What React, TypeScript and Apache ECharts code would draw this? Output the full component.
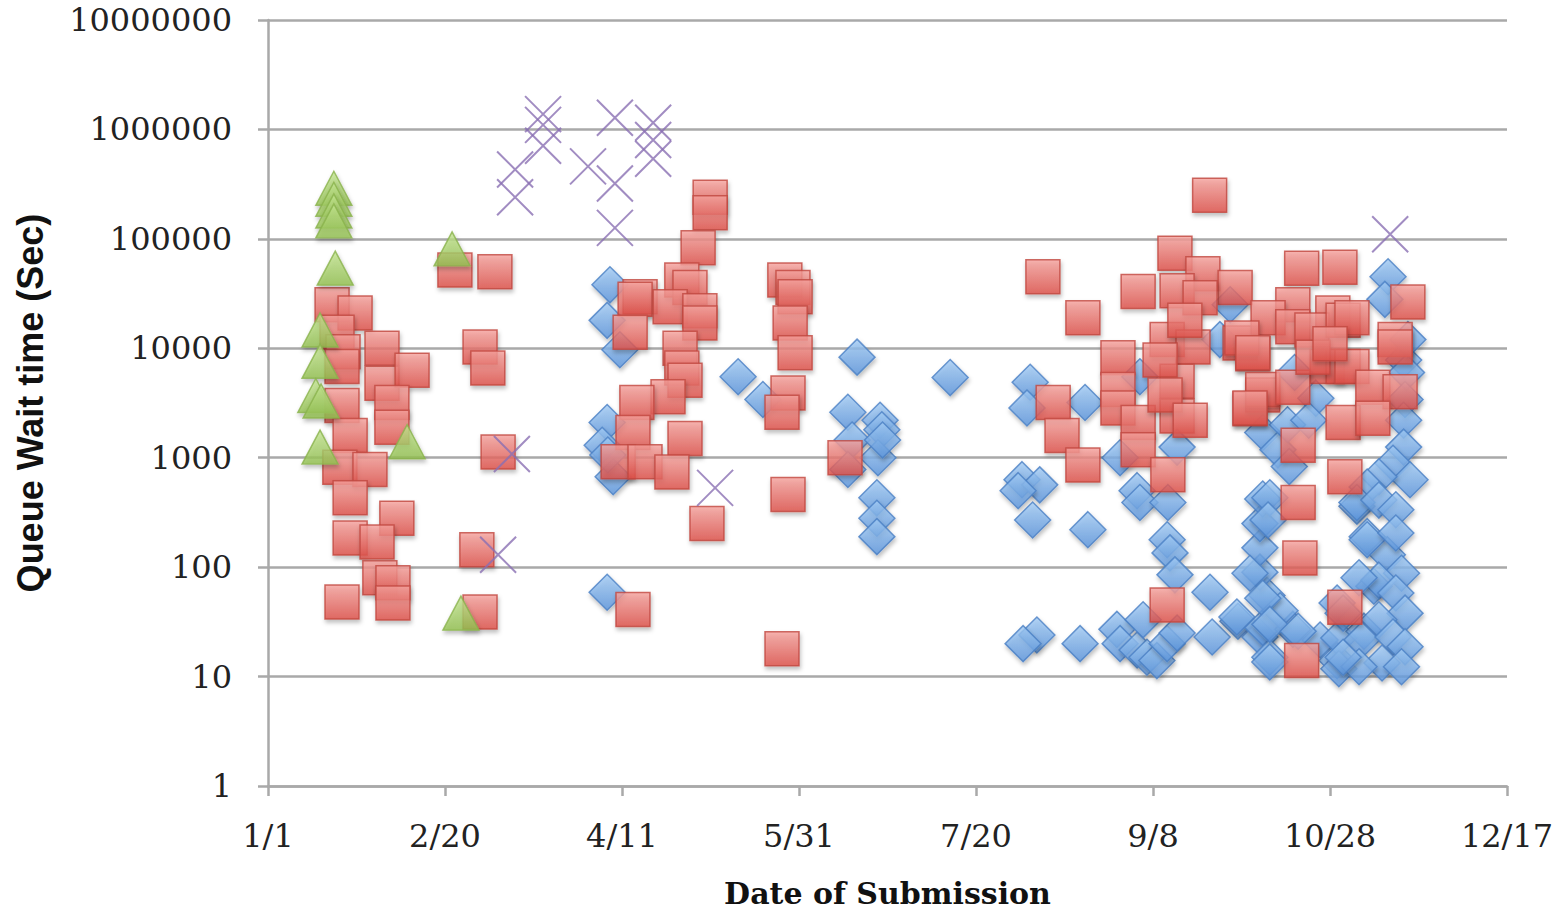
import { useEffect, useRef } from 'react';
import * as echarts from 'echarts';

const xTickLabels = ['1/1', '2/20', '4/11', '5/31', '7/20', '9/8', '10/28', '12/17'];

const bluePoints: [number, number][] = [
  [96.6, 38000], [95.8, 18000], [99.4, 9700], [95.8, 2100], [94.4, 1300], [97.5, 670], [96, 1060], [95.8, 59], [132.8, 5500],
  [139.8, 3400], [166.4, 8300], [192.7, 5400], [163.8, 2600], [172.9, 2200], [173.4, 1800], [165, 1450], [172.3, 1000],
  [163.8, 780], [172, 430], [172, 280], [172, 190], [173.6, 1450],
  [215.3, 4900], [214.4, 2850], [230.8, 3200], [213, 630], [218, 565], [211.9, 500], [216, 270], [231.6, 220],
  [240.7, 1000], [245.5, 500], [246.3, 390], [254.2, 390], [254, 178], [254.8, 135], [256.2, 85], [217.2, 24],
  [213.3, 20], [229.4, 20], [239.8, 27], [240.7, 20], [245.5, 17.5], [248.3, 15], [251.1, 14], [254, 20], [256.8, 25],
  [247.2, 33], [246.3, 5500], [256.8, 1250],
  [266.1, 59], [266.7, 23], [274, 32], [280.2, 23], [282.2, 55], [280.2, 90], [280.2, 150], [280.2, 250], [281, 420],
  [271.8, 25000], [268.9, 12000], [281, 1700],
  [285.3, 1180], [283, 430], [282.5, 270], [277.4, 88], [273.7, 35], [281, 28], [289.5, 27], [283, 15], [297.2, 21.6],
  [302, 14], [288.5, 830], [302, 47], [285.9, 40], [281, 52], [283, 30], [291, 26], [283, 13.6], [302.5, 22.5],
  [302.5, 11.8], [309.6, 26], [307.6, 360], [310.5, 190], [316.2, 130], [312.4, 67],
  [290, 6000], [296, 3500], [288, 2000], [294, 2200],
  [316.4, 45000], [315.5, 28000], [320.8, 7800], [321.6, 6000], [321.2, 3400], [320.8, 2200], [320.8, 1250],
  [317.8, 890], [322.6, 630], [313.8, 670], [310.5, 540], [307.6, 390], [313.8, 410], [318.6, 335], [310.5, 178],
  [318.6, 205], [320.2, 88], [313.8, 76], [318.6, 58], [321.2, 38], [313.8, 33], [309, 21.6], [317.8, 23],
  [321.2, 18.7], [314.7, 13.3], [308.2, 12.3], [320.2, 12.3], [303.7, 15], [303.7, 38], [308.2, 80], [322, 12000],
];

const redPoints: [number, number][] = [
  [52.8, 52000], [64.1, 50000], [18.1, 25000], [24.6, 21000], [19.5, 14000], [32.2, 10000], [21.2, 9300], [20.9, 6800],
  [32.2, 4800], [40.7, 6300], [35, 3200], [20.9, 3000], [35, 1900], [23.2, 1600], [20.3, 820], [28.8, 780], [23.2, 430],
  [36.4, 280], [23.2, 185], [30.8, 170], [31.6, 80], [35.3, 72], [35.3, 47], [20.9, 48], [59.9, 10300], [62.1, 6600],
  [65, 1130], [59, 144], [59.9, 39],
  [124.9, 240000], [124.9, 173000], [121.5, 83000], [116.9, 42000], [119.2, 36000], [105.1, 29500], [103.7, 28000],
  [113.6, 24000], [122, 22000], [122, 17000], [102.3, 14000], [116.4, 10000], [116.9, 6600], [117.8, 5100],
  [113, 3600], [104.2, 3200], [103.1, 1700], [117.8, 1500], [98.9, 920], [106.5, 920], [114.1, 740], [124, 250],
  [103.1, 41],
  [146, 42000], [148.3, 36000], [148.9, 29500], [147.5, 17000], [148.9, 9100], [146.9, 3900], [145.2, 2600],
  [163, 1000], [146.9, 460], [145.2, 18],
  [266, 250000], [218.9, 45000], [230.2, 19000], [245.8, 33000], [256.2, 74000], [240.1, 8200], [240.1, 4200],
  [240.1, 2850], [221.8, 3200], [224.3, 1600], [230.2, 860], [245.8, 2100], [245.8, 1180], [254.2, 700], [254, 45],
  [264.1, 48000], [273.2, 36000], [256.8, 33500], [263.3, 29000], [254, 12000], [261.3, 10300], [256.8, 5000],
  [256.8, 2400], [274.6, 11200], [278.2, 8900], [277.4, 2800], [281, 3750], [252, 7800], [259, 18000],
  [253.4, 3750], [260.5, 2200],
  [292, 54000], [302.8, 55000], [289.5, 25000], [282.5, 19000], [300.8, 21000], [275.1, 12400], [278.2, 9100],
  [289.5, 15700], [294.9, 14700], [303.7, 18000], [299.2, 6800], [303.7, 6800], [281, 4200], [277.4, 2850],
  [289.5, 4400], [291, 1300], [304.2, 670], [291, 390], [291.5, 121], [304.2, 43], [292, 14], [303.7, 2100],
  [295.2, 8300],
  [322, 26500], [306.2, 19000], [318.4, 12000], [318.4, 10300], [306.2, 6800], [312.1, 4400], [319.8, 4000],
  [312.1, 2300], [300, 11000],
];

const greenPoints: [number, number][] = [
  [18.6, 290000], [18.6, 230000], [18.6, 180000], [18.6, 146000], [19, 54000], [14.7, 14700], [14.7, 7600],
  [13.5, 3700], [15, 3300], [14.7, 1250], [39.3, 1400], [52, 81000], [54.5, 38],
];

const purplePoints: [number, number][] = [
  [77.7, 1380000], [77.7, 1100000], [77.7, 710000], [69.8, 430000], [69.8, 240000], [98, 1280000], [108.8, 1150000],
  [108.8, 800000], [108.8, 540000], [90.4, 460000], [98, 320000], [98, 126000], [68.9, 1080], [65, 130],
  [126.3, 530], [317, 110000],
];

export default function App() {
  const ref = useRef<HTMLDivElement>(null);
  useEffect(() => {
    const chart = echarts.init(ref.current!, null, { renderer: 'svg' });
    const grad = (a: string, b: string) =>
      new echarts.graphic.LinearGradient(0, 0, 0, 1, [
        { offset: 0, color: a },
        { offset: 1, color: b },
      ]);
    const shadow = { shadowBlur: 4, shadowOffsetX: 1, shadowOffsetY: 3, shadowColor: 'rgba(0,0,0,0.3)' };
    const gridColor = '#a9a9a9';
    chart.setOption({
      animation: false,
      grid: { left: 268, right: 59, top: 20, bottom: 127, containLabel: false },
      xAxis: {
        type: 'value',
        min: 0,
        max: 350,
        interval: 50,
        name: 'Date of Submission',
        nameLocation: 'middle',
        nameGap: 92,
        nameTextStyle: { fontFamily: 'DejaVu Serif', fontWeight: 'bold', fontSize: 30, color: '#111' },
        axisLine: { show: true, lineStyle: { color: gridColor, width: 2.5 } },
        axisTick: { show: true, length: 10, inside: false, lineStyle: { color: gridColor, width: 2.5 } },
        axisLabel: {
          margin: 34,
          fontFamily: 'DejaVu Serif',
          fontSize: 32,
          color: '#222',
          formatter: (v: number) => xTickLabels[Math.round(v / 50)] ?? '',
        },
        splitLine: { show: false },
      },
      yAxis: {
        type: 'log',
        logBase: 10,
        min: 1,
        max: 10000000,
        name: 'Queue Wait time (Sec)',
        nameLocation: 'middle',
        nameGap: 220,
        nameTextStyle: { fontFamily: 'Liberation Sans', fontWeight: 'bold', fontSize: 36, color: '#111' },
        axisLine: { show: true, lineStyle: { color: gridColor, width: 2.5 } },
        axisTick: { show: true, length: 10, lineStyle: { color: gridColor, width: 2.5 } },
        axisLabel: {
          margin: 36,
          fontFamily: 'DejaVu Serif',
          fontSize: 32,
          color: '#222',
          formatter: (v: number) => String(Math.round(v)),
        },
        splitLine: { show: true, lineStyle: { color: gridColor, width: 2.5 } },
      },
      series: [
        {
          type: 'scatter',
          data: bluePoints,
          symbol: 'diamond',
          symbolSize: 36,
          itemStyle: { color: grad('#a3ccf5', '#5a94dc'), borderColor: '#4a80c4', borderWidth: 1.5, ...shadow },
        },
        {
          type: 'scatter',
          data: redPoints,
          symbol: 'rect',
          symbolSize: 34,
          itemStyle: { color: grad('#f6a39e', '#de4f48'), borderColor: '#c0463f', borderWidth: 1.5, ...shadow },
        },
        {
          type: 'scatter',
          data: greenPoints,
          symbol: 'triangle',
          symbolSize: [36, 34],
          itemStyle: { color: grad('#c4e592', '#92c04f'), borderColor: '#8ab34c', borderWidth: 1.5, ...shadow },
        },
        {
          type: 'scatter',
          data: purplePoints,
          symbol: 'path://M0 0 L10 10 M10 0 L0 10',
          symbolSize: 36,
          itemStyle: { color: 'transparent', borderColor: '#8a6fb3', borderWidth: 2 },
        },
      ],
    });
    return () => chart.dispose();
  }, []);
  return <div ref={ref} style={{ position: 'fixed', left: 0, top: 0, width: 1566, height: 913, background: '#fff' }} />;
}
